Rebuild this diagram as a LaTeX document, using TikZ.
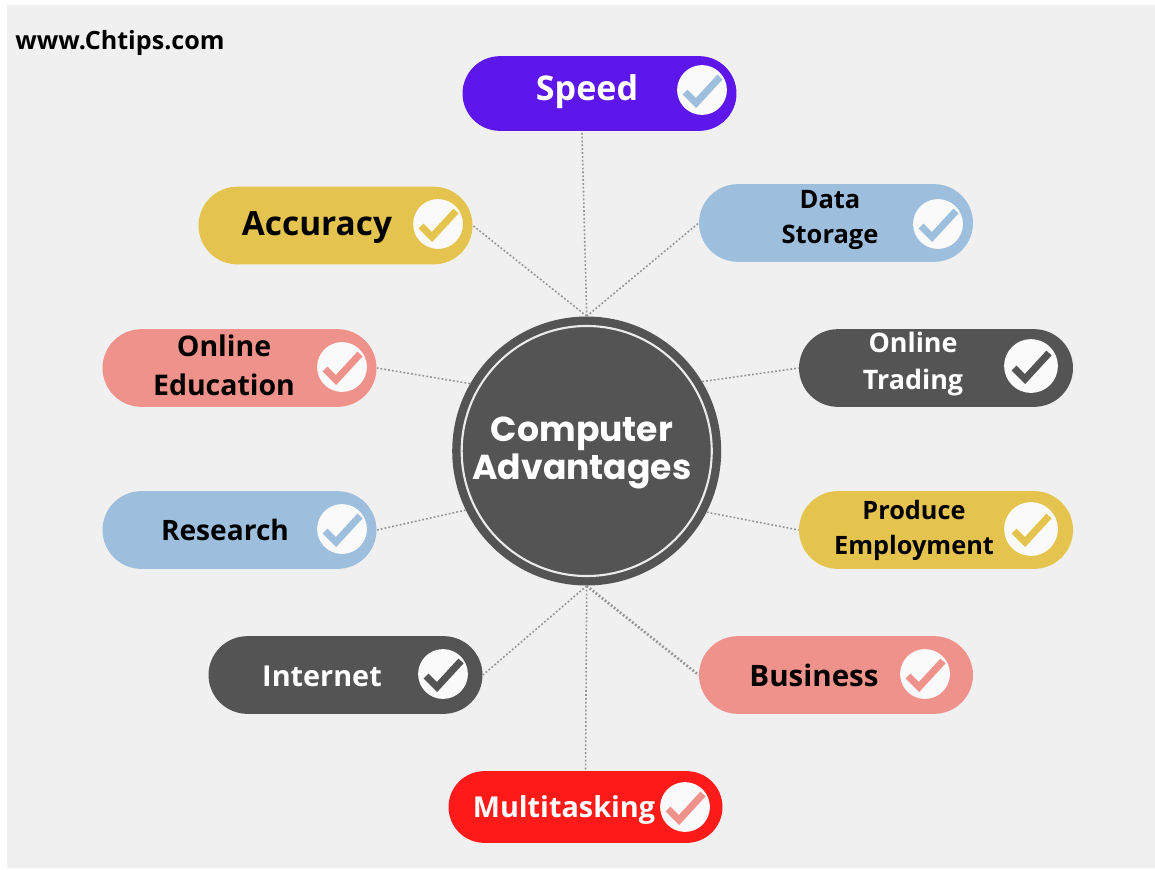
\documentclass[tikz,border=0pt]{standalone}
\usepackage{fontspec}
\setmainfont{Open Sans}
\newfontfamily\HubFont{Poppins}
\usetikzlibrary{shapes.misc}
\definecolor{PanelGray}{HTML}{F0F0F0}
\definecolor{DarkGray}{HTML}{545454}
\definecolor{Violet}{HTML}{5E17EB}
\definecolor{Straw}{HTML}{E4C44F}
\definecolor{Sky}{HTML}{9DBFDD}
\definecolor{Salmon}{HTML}{F0928C}
\definecolor{Signal}{HTML}{FF1A1A}
\tikzset{
  pill/.style={rounded rectangle,minimum width=275*0.567pt,minimum height=78*0.567pt,inner sep=0pt},
  lab/.style={font=\bfseries\fontsize{#1}{20pt}\selectfont,align=center,inner sep=0pt},
  link/.style={draw=gray!85,line width=0.9pt,dash pattern=on 1pt off 1.2pt},
  badge/.style={circle,fill=white!98!black,minimum size=50*0.567pt,inner sep=0pt},
}
\begin{document}
\begin{tikzpicture}[x=0.02cm,y=-0.02cm]
\useasboundingbox (0,0) rectangle (1155,869);
\fill[PanelGray] (7,5) rectangle (1155,868);

\node[lab=14.3,anchor=west] (site) at (15,43) {www.Chtips.com};

%hub
\node[circle,fill=DarkGray,minimum size=270*0.567pt,inner sep=0pt] (hub) at (586.7,451) {};
\node[circle,draw=white!92!black,line width=1.2pt,minimum size=251*0.567pt,inner sep=0pt] (ring) at (hub) {};
\node[lab=20,text=white,font=\HubFont\bfseries\fontsize{19.7}{22}\selectfont] (title) at (582,453) {Computer\\Advantages};

%pills
\node[pill,fill=Violet,minimum height=75*0.567pt] (speed) at (599.5,93.5) {};
\node[pill,fill=Straw] (accuracy) at (335.5,225.5) {};
\node[pill,fill=Sky] (storage) at (836,223) {};
\node[pill,fill=Salmon] (education) at (239.5,368) {};
\node[pill,fill=DarkGray] (trading) at (936,368) {};
\node[pill,fill=Sky] (research) at (239.5,530) {};
\node[pill,fill=Straw] (employment) at (936,530) {};
\node[pill,fill=DarkGray] (internet) at (345.5,675) {};
\node[pill,fill=Salmon] (business) at (836,675) {};
\node[pill,fill=Signal,minimum height=72*0.567pt] (multitasking) at (585.5,807) {};

%labels
\node[lab=19.4,text=white] (speedText) at (587,92) {Speed};
\node[lab=19] (accuracyText) at (317,228) {Accuracy};
\node[lab=14.5] (storageText) at (830,220) {Data\\Storage};
\node[lab=16.2] (educationText) at (224,365.5) {Online\\[2pt]Education};
\node[lab=15.3,text=white] (tradingText) at (913,364) {Online\\[1pt]Trading};
\node[lab=16] (researchText) at (225,530) {Research};
\node[lab=14.4] (employmentText) at (914,530) {Produce\\Employment};
\node[lab=16.4,text=white] (internetText) at (322,676) {Internet};
\node[lab=16.8] (businessText) at (814,675) {Business};
\node[lab=16.4,text=white] (multitaskingText) at (564,810) {Multitasking};

%connectors
\draw[link] (hub.north) -- (speed.-115);
\draw[link] (hub.north) -- (accuracy.east);
\draw[link] (hub.north) -- (storage.west);
\draw[link] (hub.150) -- (education.east);
\draw[link] (hub.31) -- (trading.west);
\draw[link] (hub.206) -- (research.east);
\draw[link] (hub.-27) -- (employment.west);
\draw[link] (hub.south) -- (internet.east);
\draw[link,line width=1.5pt] (hub.south) -- (business.west);
\draw[link] (hub.south) -- (multitasking.north);

%badges
\foreach \x/\y/\r/\c in {%
    702/90/25/Sky,438/224/25/Straw,938/224/25/Sky,342/367/25/Salmon,%
    1031/366/27/DarkGray,342/529/25/Sky,1031/529/27/Straw,%
    443/674/25/DarkGray,925/674/25/Salmon,685/807/25/Salmon%
}{
    \node[badge,minimum size=2*\r*0.567pt] (badge\x) at (\x,\y) {};
    \draw[\c,line width=4pt] (\x-17,\y+2) -- ++(11,11) -- ++(24,-26);
}
\end{tikzpicture}
\end{document}
